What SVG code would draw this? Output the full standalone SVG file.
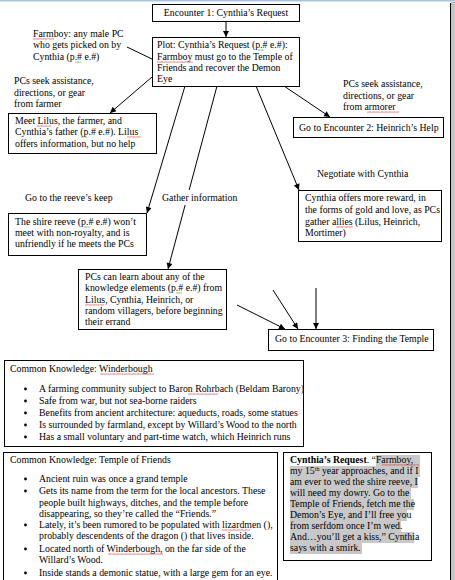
<svg xmlns="http://www.w3.org/2000/svg" width="455" height="580" viewBox="0 0 455 580">
<style>
.t{font-family:"Liberation Serif","Times New Roman",serif;font-size:9.8px;fill:#000}
.b{font-weight:bold}
.box{fill:#fff;stroke:#000;stroke-width:1}
.cn line{stroke:#000;stroke-width:1;marker-end:url(#ah)}
.cn line.plain{marker-end:none}
.hl{fill:#c8c8c8}
.sq{fill:url(#red)}
.sg{fill:url(#green)}
.bul{fill:#000}
.bg{fill:#fff}
</style>
<defs>
<marker id="ah" viewBox="0 0 10 10" refX="10" refY="5" markerWidth="7" markerHeight="6" markerUnits="userSpaceOnUse" orient="auto">
<path d="M0,0 L10,5 L0,10 z" fill="#000"/>
</marker>
<pattern id="red" width="4" height="2" patternUnits="userSpaceOnUse">
<path d="M0,1.5 L1,0.5 L2,1.5 L3,0.5 L4,1.5" stroke="#e02020" stroke-width="0.7" fill="none"/>
</pattern>
<pattern id="green" width="4" height="2" patternUnits="userSpaceOnUse">
<path d="M0,1.5 L1,0.5 L2,1.5 L3,0.5 L4,1.5" stroke="#20a020" stroke-width="0.7" fill="none"/>
</pattern>
</defs>
<rect x="0" y="0" width="455" height="580" fill="#fff"/>
<rect x="0" y="0" width="455" height="1.5" fill="#a9c3e6"/>
<rect x="451" y="1.5" width="4" height="579" fill="#c4c4c4"/>
<line x1="450.5" y1="3" x2="450.5" y2="580" stroke="#000" stroke-width="1"/>

<g id="connectors" class="cn">
<line x1="226" y1="21" x2="226" y2="37"/>
<line class="plain" x1="127" y1="47" x2="152" y2="59"/>
<line x1="152" y1="77" x2="110" y2="113"/>
<line x1="284" y1="86" x2="330" y2="117"/>
<line x1="185" y1="86" x2="147" y2="213"/>
<line x1="217" y1="86" x2="168" y2="269"/>
<line x1="256" y1="86" x2="299" y2="190"/>
<line x1="237" y1="305" x2="285" y2="329"/>
<line x1="273" y1="290" x2="298" y2="329"/>
<line x1="316" y1="288" x2="316" y2="329"/>
</g>

<g id="enc1">
<rect class="box" x="152.5" y="4.5" width="147" height="17"/>
<text class="t" x="226" y="16" text-anchor="middle">Encounter 1: Cynthia’s Request</text>
</g>

<g id="plot">
<rect class="box" x="152.5" y="37.5" width="147" height="49"/>
<text class="t" x="157" y="48">Plot: Cynthia’s Request (p.# e.#):</text>
<text class="t" x="157" y="60">Farmboy must go to the Temple of</text>
<text class="t" x="157" y="71">Friends and recover the Demon</text>
<text class="t" x="157" y="82">Eye</text>
<rect class="sg" x="258" y="49" width="6" height="2"/>
<rect class="sq" x="157" y="61" width="36" height="2"/>
</g>

<g id="note-farmboy">
<text class="t" x="33" y="37">Farmboy: any male PC</text>
<text class="t" x="33" y="48">who gets picked on by</text>
<text class="t" x="33" y="60">Cynthia (p.# e.#)</text>
<rect class="sq" x="33" y="38" width="21" height="2"/>
<rect class="sg" x="75" y="61" width="6" height="2"/>
</g>

<g id="label-farmer">
<text class="t" x="14" y="84">PCs seek assistance,</text>
<text class="t" x="14" y="96">directions, or gear</text>
<text class="t" x="14" y="107">from farmer</text>
</g>

<g id="meet-lilus">
<rect class="box" x="8.5" y="113.5" width="148" height="40"/>
<text class="t" x="15" y="124">Meet Lilus, the farmer, and</text>
<text class="t" x="15" y="135">Cynthia’s father (p.# e.#).  Lilus</text>
<text class="t" x="15" y="147">offers information, but no help</text>
<rect class="sq" x="37" y="125" width="14" height="2"/>
<rect class="sg" x="81" y="136" width="6" height="2"/>
<rect class="sq" x="127" y="136" width="14" height="2"/>
</g>

<g id="label-armorer">
<text class="t" x="343" y="87">PCs seek assistance,</text>
<text class="t" x="343" y="99">directions, or gear</text>
<text class="t" x="343" y="110">from armorer</text>
<rect class="sq" x="367" y="111" width="32" height="2"/>
</g>

<g id="enc2">
<rect class="box" x="293.5" y="117.5" width="150" height="20"/>
<text class="t" x="299" y="131">Go to Encounter 2: Heinrich’s Help</text>
</g>

<g id="label-negotiate">
<text class="t" x="317" y="177">Negotiate with Cynthia</text>
</g>

<g id="cynthia-offers">
<rect class="box" x="298.5" y="190.5" width="143" height="51"/>
<text class="t" x="305" y="201">Cynthia offers more reward, in</text>
<text class="t" x="305" y="213">the forms of gold and love, as PCs</text>
<text class="t" x="305" y="225">gather allies (Lilus, Heinrich,</text>
<text class="t" x="305" y="236">Mortimer)</text>
<rect class="sq" x="336" y="226" width="17" height="2"/>
</g>

<g id="label-reeve">
<text class="t" x="25" y="201">Go to the reeve’s keep</text>
</g>
<g id="label-gather">
<rect class="bg" x="158" y="190" width="84" height="15"/>
<text class="t" x="162" y="201">Gather information</text>
</g>

<g id="reeve">
<rect class="box" x="8.5" y="213.5" width="138" height="42"/>
<text class="t" x="15" y="225">The shire reeve (p.# e.#) won’t</text>
<text class="t" x="15" y="236">meet with non-royalty, and is</text>
<text class="t" x="15" y="247">unfriendly if he meets the PCs</text>
<rect class="sg" x="84" y="226" width="6" height="2"/>
</g>

<g id="learn">
<rect class="box" x="78.5" y="269.5" width="148" height="60"/>
<text class="t" x="85" y="280">PCs can learn about any of the</text>
<text class="t" x="85" y="291">knowledge elements (p.# e.#) from</text>
<text class="t" x="85" y="303">Lilus, Cynthia, Heinrich, or</text>
<text class="t" x="85" y="314">random villagers, before beginning</text>
<text class="t" x="85" y="325">their errand</text>
<rect class="sg" x="176" y="292" width="6" height="2"/>
<rect class="sq" x="85" y="304" width="19" height="2"/>
</g>

<g id="enc3">
<rect class="box" x="268.5" y="329.5" width="165" height="21"/>
<text class="t" x="275" y="342">Go to Encounter 3: Finding the Temple</text>
</g>

<g id="ck-winderbough">
<rect class="box" x="4.5" y="360.5" width="299" height="86"/>
<text class="t" x="10" y="372">Common Knowledge: Winderbough</text>
<rect class="sq" x="100" y="373" width="54" height="2"/>
<circle class="bul" cx="25.5" cy="389" r="1.4"/>
<text class="t" x="39" y="392">A farming community subject to Baron Rohrbach (Beldam Barony)</text>
<rect class="sq" x="188" y="393" width="30" height="2"/>
<circle class="bul" cx="25.5" cy="401" r="1.4"/>
<text class="t" x="39" y="404">Safe from war, but not sea-borne raiders</text>
<circle class="bul" cx="25.5" cy="413" r="1.4"/>
<text class="t" x="39" y="416">Benefits from ancient architecture: aqueducts, roads, some statues</text>
<circle class="bul" cx="25.5" cy="425" r="1.4"/>
<text class="t" x="39" y="428">Is surrounded by farmland, except by Willard’s Wood to the north</text>
<circle class="bul" cx="25.5" cy="437" r="1.4"/>
<text class="t" x="39" y="440">Has a small voluntary and part-time watch, which Heinrich runs</text>
</g>

<g id="ck-temple">
<rect class="box" x="3.5" y="452.5" width="274" height="140"/>
<text class="t" x="10" y="463">Common Knowledge: Temple of Friends</text>
<circle class="bul" cx="25.5" cy="479" r="1.4"/>
<text class="t" x="39" y="482">Ancient ruin was once a grand temple</text>
<circle class="bul" cx="25.5" cy="491" r="1.4"/>
<text class="t" x="39" y="494">Gets its name from the term for the local ancestors.  These</text>
<text class="t" x="39" y="506">people built highways, ditches, and the temple before</text>
<text class="t" x="39" y="517">disappearing, so they’re called the “Friends.”</text>
<circle class="bul" cx="25.5" cy="525" r="1.4"/>
<text class="t" x="39" y="528">Lately, it’s been rumored to be populated with lizardmen (),</text>
<rect class="sq" x="222" y="529" width="28" height="2"/>
<text class="t" x="39" y="539">probably descendents of the dragon () that lives inside.</text>
<circle class="bul" cx="25.5" cy="549" r="1.4"/>
<text class="t" x="39" y="552">Located north of Winderbough, on the far side of the</text>
<rect class="sq" x="108" y="553" width="55" height="2"/>
<text class="t" x="39" y="563">Willard’s Wood.</text>
<circle class="bul" cx="25.5" cy="573" r="1.4"/>
<text class="t" x="39" y="576">Inside stands a demonic statue, with a large gem for an eye.</text>
</g>

<g id="cynthia-request">
<rect class="box" x="283.5" y="452.5" width="148" height="108"/>
<rect class="hl" x="376" y="455" width="44" height="11"/>
<rect class="hl" x="290" y="466" width="130" height="11"/>
<rect class="hl" x="290" y="477" width="128" height="11"/>
<rect class="hl" x="290" y="488" width="121" height="11"/>
<rect class="hl" x="290" y="499" width="124" height="11"/>
<rect class="hl" x="290" y="510" width="117" height="11"/>
<rect class="hl" x="290" y="521" width="111" height="11"/>
<rect class="hl" x="290" y="532" width="124" height="11"/>
<rect class="hl" x="290" y="543" width="72" height="11"/>
<text class="t" x="290" y="463"><tspan class="b">Cynthia’s Request</tspan>.  “Farmboy,</text>
<rect class="sq" x="382" y="464" width="37" height="2"/>
<text class="t" x="290" y="474">my 15<tspan font-size="6" dy="-3.5">th</tspan><tspan dy="3.5"> year approaches, and if I</tspan></text>
<text class="t" x="290" y="485">am ever to wed the shire reeve, I</text>
<text class="t" x="290" y="496">will need my dowry.  Go to the</text>
<text class="t" x="290" y="507">Temple of Friends, fetch me the</text>
<text class="t" x="290" y="518">Demon’s Eye, and I’ll free you</text>
<text class="t" x="290" y="529">from serfdom once I’m wed.</text>
<text class="t" x="290" y="540">And…you’ll get a kiss,” Cynthia</text>
<text class="t" x="290" y="551">says with a smirk.</text>
</g>
</svg>
